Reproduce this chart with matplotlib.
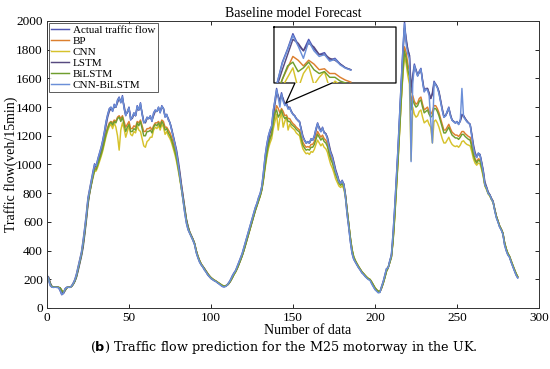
import numpy as np
import matplotlib
matplotlib.use('Agg')
import matplotlib.pyplot as plt

plt.rcParams['font.family'] = ['Liberation Serif', 'DejaVu Serif']

# 读取自图片的数据（15 分钟一个点，共 288 个）
actual = [
    230, 190, 155, 145, 145, 146, 144, 143, 120, 92, 105, 135, 145, 146, 144, 155,
    175, 200, 240, 290, 340, 390, 470, 560, 660, 770, 830, 890, 950, 1005, 990, 1040,
    1080, 1120, 1170, 1230, 1300, 1350, 1390, 1400, 1370, 1420, 1400, 1450, 1470, 1430, 1480, 1390,
    1340, 1370, 1400, 1310, 1330, 1360, 1340, 1410, 1380, 1430, 1350, 1290, 1300, 1330, 1320, 1340,
    1300, 1360, 1380, 1370, 1400, 1360, 1410, 1390, 1330, 1350, 1310, 1290, 1240, 1190, 1140, 1080,
    1000, 915, 830, 740, 660, 590, 545, 520, 495, 470, 440, 385, 350, 320, 300, 285,
    265, 250, 230, 218, 205, 198, 190, 185, 175, 168, 158, 150, 148, 155, 165, 180,
    200, 225, 245, 262, 290, 320, 350, 380, 420, 460, 500, 540, 580, 620, 660, 700,
    730, 770, 800, 850, 950, 1060, 1140, 1200, 1240, 1270, 1380, 1450, 1530, 1470, 1440, 1500,
    1450, 1420, 1430, 1390, 1400, 1370, 1350, 1340, 1320, 1310, 1300, 1240, 1190, 1170, 1150, 1160,
    1150, 1180, 1170, 1200, 1250, 1290, 1250, 1230, 1260, 1220, 1215, 1180, 1120, 1080, 1050, 1000,
    950, 920, 880, 870, 890, 860, 770, 650, 560, 460, 380, 340, 320, 300, 280, 265,
    245, 235, 220, 210, 200, 195, 170, 150, 130, 120, 110, 112, 150, 185, 230, 275,
    280, 330, 370, 520, 700, 900, 1110, 1350, 1580, 1800, 1995, 1860, 1800, 1760, 1500, 1620,
    1700, 1660, 1620, 1650, 1670, 1580, 1510, 1530, 1530, 1490, 1460, 1500, 1580, 1560, 1540, 1500,
    1440, 1380, 1330, 1340, 1370, 1400, 1340, 1310, 1300, 1290, 1300, 1280, 1310, 1350, 1340, 1320,
    1300, 1290, 1280, 1200, 1120, 1070, 1050, 1080, 1070, 1010, 950, 860, 840, 800, 790, 760,
    740, 680, 630, 600, 565, 545, 515, 440, 400, 370, 355, 320, 290, 260, 230, 210,
]

bp = [
    225, 210, 170, 150, 146, 146, 145, 144, 138, 120, 108, 122, 140, 145, 145, 150,
    168, 190, 225, 275, 325, 375, 445, 535, 635, 745, 810, 870, 925, 970, 975, 1010,
    1045, 1080, 1120, 1170, 1220, 1260, 1290, 1300, 1290, 1310, 1300, 1330, 1340, 1320, 1340, 1300,
    1260, 1280, 1300, 1250, 1250, 1270, 1260, 1300, 1290, 1310, 1270, 1230, 1230, 1250, 1250, 1260,
    1240, 1270, 1290, 1290, 1300, 1280, 1310, 1300, 1260, 1260, 1240, 1220, 1190, 1150, 1110, 1060,
    1000, 930, 850, 770, 690, 615, 565, 530, 505, 480, 450, 400, 362, 332, 308, 292,
    275, 258, 240, 225, 212, 203, 195, 188, 180, 172, 164, 156, 152, 154, 160, 172,
    190, 212, 235, 254, 278, 306, 336, 366, 402, 442, 482, 522, 562, 602, 642, 682,
    716, 752, 786, 830, 905, 995, 1075, 1140, 1185, 1215, 1290, 1350, 1410, 1390, 1360, 1390,
    1370, 1340, 1345, 1320, 1320, 1300, 1285, 1275, 1260, 1250, 1240, 1195, 1155, 1135, 1120, 1125,
    1120, 1140, 1140, 1160, 1195, 1230, 1210, 1190, 1205, 1180, 1170, 1145, 1095, 1055, 1030, 990,
    945, 915, 880, 865, 875, 855, 785, 680, 585, 485, 405, 355, 328, 308, 288, 270,
    252, 240, 226, 214, 204, 198, 180, 160, 140, 126, 116, 114, 140, 175, 215, 258,
    280, 318, 358, 470, 640, 830, 1030, 1250, 1460, 1650, 1820, 1780, 1700, 1650, 1440, 1480,
    1440, 1420, 1430, 1460, 1470, 1420, 1380, 1390, 1400, 1370, 1350, 1370, 1410, 1410, 1390, 1360,
    1320, 1280, 1240, 1240, 1260, 1280, 1250, 1225, 1215, 1205, 1205, 1195, 1210, 1230, 1230, 1215,
    1205, 1195, 1190, 1140, 1080, 1040, 1020, 1040, 1035, 990, 935, 860, 835, 800, 785, 760,
    740, 688, 640, 605, 572, 550, 522, 455, 412, 380, 360, 328, 298, 268, 240, 218,
]

cnn = [
    220, 200, 165, 148, 145, 146, 145, 144, 140, 125, 112, 125, 140, 145, 145, 150,
    165, 188, 222, 270, 320, 370, 440, 525, 625, 735, 800, 855, 905, 950, 955, 985,
    1020, 1055, 1095, 1145, 1195, 1235, 1265, 1280, 1250, 1290, 1260, 1200, 1100, 1240, 1290, 1250,
    1190, 1230, 1270, 1210, 1200, 1230, 1220, 1270, 1240, 1230, 1180, 1130, 1120, 1160, 1170, 1190,
    1190, 1240, 1260, 1250, 1270, 1240, 1280, 1260, 1210, 1230, 1200, 1180, 1150, 1110, 1070, 1020,
    960, 895, 825, 750, 680, 610, 562, 528, 502, 478, 448, 400, 362, 332, 308, 290,
    272, 256, 238, 224, 212, 203, 195, 188, 180, 173, 165, 158, 154, 156, 162, 174,
    190, 210, 232, 250, 274, 302, 332, 362, 398, 436, 476, 516, 556, 596, 636, 676,
    710, 745, 778, 820, 890, 975, 1050, 1110, 1150, 1180, 1250, 1300, 1350, 1240, 1320, 1360,
    1260, 1300, 1330, 1240, 1280, 1260, 1250, 1240, 1220, 1210, 1200, 1150, 1110, 1090, 1075, 1080,
    1070, 1090, 1085, 1105, 1140, 1170, 1150, 1130, 1145, 1120, 1110, 1085, 1040, 1000, 975, 940,
    900, 875, 850, 840, 850, 830, 770, 675, 585, 490, 410, 360, 332, 310, 290, 272,
    254, 242, 228, 216, 206, 200, 182, 162, 142, 128, 118, 116, 138, 170, 210, 255,
    280, 315, 352, 460, 620, 810, 1010, 1230, 1440, 1620, 1760, 1700, 1620, 1560, 1030, 1400,
    1350, 1330, 1340, 1370, 1380, 1330, 1290, 1300, 1310, 1280, 1260, 1150, 1300, 1310, 1290, 1260,
    1220, 1180, 1150, 1150, 1170, 1190, 1160, 1140, 1130, 1125, 1130, 1120, 1135, 1160, 1165, 1150,
    1140, 1135, 1130, 1090, 1040, 1010, 995, 1010, 1005, 965, 915, 850, 825, 795, 780, 755,
    735, 685, 640, 605, 572, 550, 522, 458, 415, 382, 362, 330, 300, 270, 242, 220,
]

lstm = [
    225, 215, 175, 150, 145, 145, 145, 144, 140, 118, 100, 120, 140, 145, 145, 150,
    165, 185, 215, 260, 310, 360, 420, 510, 610, 720, 800, 860, 920, 980, 990, 1020,
    1060, 1100, 1150, 1210, 1270, 1330, 1370, 1390, 1380, 1400, 1400, 1430, 1460, 1440, 1460, 1410,
    1350, 1360, 1390, 1330, 1320, 1350, 1340, 1390, 1380, 1410, 1360, 1300, 1290, 1320, 1320, 1330,
    1310, 1340, 1370, 1370, 1390, 1370, 1400, 1390, 1340, 1340, 1320, 1290, 1250, 1200, 1150, 1100,
    1030, 950, 860, 780, 700, 620, 570, 530, 505, 480, 450, 400, 360, 330, 305, 290,
    275, 255, 238, 222, 210, 200, 192, 186, 178, 170, 162, 154, 150, 152, 160, 172,
    190, 212, 236, 255, 278, 305, 335, 365, 400, 440, 480, 520, 560, 600, 640, 680,
    715, 750, 785, 830, 910, 1010, 1100, 1170, 1220, 1255, 1340, 1420, 1500, 1480, 1440, 1480,
    1460, 1420, 1420, 1400, 1390, 1370, 1350, 1340, 1320, 1305, 1295, 1250, 1200, 1170, 1150, 1155,
    1150, 1170, 1170, 1190, 1235, 1280, 1260, 1235, 1250, 1225, 1215, 1190, 1140, 1090, 1060, 1015,
    965, 930, 890, 870, 880, 865, 790, 680, 580, 480, 400, 350, 325, 305, 285, 268,
    250, 238, 225, 212, 203, 196, 178, 158, 138, 125, 115, 112, 140, 175, 215, 260,
    280, 320, 360, 480, 660, 860, 1070, 1310, 1540, 1760, 1950, 1880, 1800, 1760, 1540, 1600,
    1680, 1660, 1620, 1640, 1660, 1590, 1520, 1520, 1530, 1500, 1460, 1490, 1560, 1560, 1540, 1510,
    1450, 1390, 1340, 1340, 1360, 1390, 1350, 1310, 1300, 1290, 1295, 1285, 1300, 1340, 1340, 1320,
    1305, 1290, 1280, 1215, 1140, 1085, 1055, 1070, 1070, 1020, 960, 880, 845, 810, 790, 765,
    745, 690, 640, 605, 570, 548, 520, 455, 410, 378, 358, 325, 295, 265, 238, 215,
]

bilstm = [
    222, 205, 168, 150, 146, 146, 145, 144, 140, 122, 110, 124, 140, 145, 145, 150,
    166, 188, 222, 272, 322, 372, 442, 530, 630, 740, 805, 862, 915, 960, 965, 1000,
    1035, 1070, 1110, 1160, 1210, 1250, 1280, 1295, 1275, 1300, 1290, 1320, 1330, 1300, 1330, 1280,
    1230, 1260, 1280, 1230, 1230, 1250, 1240, 1290, 1270, 1300, 1250, 1200, 1200, 1230, 1230, 1240,
    1220, 1260, 1280, 1270, 1290, 1260, 1300, 1280, 1240, 1250, 1220, 1200, 1170, 1130, 1090, 1040,
    975, 905, 830, 755, 680, 610, 562, 528, 502, 478, 448, 398, 360, 330, 306, 290,
    272, 256, 238, 224, 211, 202, 194, 187, 179, 172, 164, 156, 152, 154, 160, 172,
    190, 210, 233, 252, 276, 304, 334, 364, 400, 440, 480, 520, 560, 600, 640, 680,
    714, 750, 782, 825, 900, 990, 1070, 1135, 1180, 1210, 1290, 1360, 1380, 1330, 1350, 1380,
    1340, 1320, 1330, 1300, 1300, 1280, 1270, 1260, 1245, 1235, 1225, 1180, 1135, 1115, 1100, 1105,
    1100, 1120, 1120, 1140, 1175, 1210, 1190, 1170, 1185, 1160, 1150, 1125, 1075, 1035, 1010, 970,
    930, 900, 870, 855, 865, 845, 780, 680, 585, 488, 408, 358, 330, 308, 288, 270,
    252, 240, 226, 214, 204, 198, 180, 160, 140, 126, 116, 114, 140, 172, 212, 256,
    280, 316, 356, 465, 630, 820, 1020, 1240, 1450, 1640, 1790, 1740, 1660, 1610, 1380, 1450,
    1420, 1400, 1410, 1440, 1450, 1400, 1360, 1370, 1380, 1350, 1330, 1340, 1390, 1390, 1370, 1340,
    1300, 1260, 1220, 1220, 1240, 1260, 1230, 1205, 1195, 1185, 1185, 1175, 1190, 1210, 1210, 1195,
    1185, 1175, 1170, 1120, 1065, 1030, 1010, 1030, 1025, 980, 925, 855, 830, 798, 783, 758,
    738, 686, 638, 603, 570, 548, 520, 455, 412, 380, 360, 328, 298, 268, 240, 218,
]

cnn_bilstm = [
    230, 200, 160, 145, 143, 145, 143, 142, 125, 95, 102, 130, 143, 145, 143, 152,
    170, 195, 232, 282, 332, 382, 458, 548, 648, 758, 822, 882, 942, 998, 990, 1035,
    1075, 1115, 1165, 1225, 1292, 1345, 1385, 1398, 1372, 1415, 1400, 1445, 1465, 1432, 1472, 1395,
    1342, 1368, 1395, 1315, 1328, 1358, 1340, 1405, 1380, 1425, 1352, 1292, 1300, 1328, 1320, 1338,
    1302, 1355, 1378, 1370, 1398, 1362, 1405, 1390, 1332, 1348, 1312, 1290, 1242, 1192, 1142, 1085,
    1005, 920, 835, 745, 665, 595, 550, 522, 498, 472, 442, 388, 352, 322, 302, 286,
    266, 250, 232, 219, 206, 198, 190, 184, 175, 167, 158, 150, 146, 150, 162, 178,
    198, 222, 243, 260, 288, 318, 348, 378, 418, 458, 498, 538, 578, 618, 658, 698,
    728, 768, 798, 848, 945, 1055, 1135, 1195, 1238, 1268, 1375, 1445, 1520, 1465, 1400, 1490,
    1440, 1410, 1420, 1385, 1395, 1365, 1348, 1338, 1318, 1308, 1295, 1238, 1188, 1168, 1150, 1158,
    1150, 1178, 1168, 1198, 1248, 1285, 1248, 1228, 1255, 1218, 1212, 1178, 1118, 1078, 1048, 1000,
    950, 920, 880, 868, 885, 858, 770, 655, 562, 462, 382, 342, 320, 300, 280, 264,
    245, 234, 220, 208, 198, 192, 168, 148, 128, 116, 105, 108, 148, 182, 228, 272,
    280, 328, 368, 515, 695, 895, 1105, 1345, 1575, 1795, 1980, 1840, 1770, 1740, 1020, 1560,
    1690, 1650, 1615, 1645, 1665, 1575, 1505, 1525, 1520, 1480, 1300, 1150, 1570, 1555, 1535, 1495,
    1435, 1378, 1328, 1338, 1368, 1395, 1338, 1308, 1298, 1288, 1298, 1278, 1305, 1530, 1330, 1315,
    1298, 1288, 1278, 1200, 1118, 1068, 1048, 1078, 1068, 1008, 948, 858, 838, 798, 788, 758,
    738, 678, 628, 598, 563, 543, 513, 440, 400, 370, 354, 320, 290, 260, 230, 210,
]

series = [
    ('Actual traffic flow', actual, '#4f56b3'),
    ('BP', bp, '#dc7f2e'),
    ('CNN', cnn, '#d6c22c'),
    ('LSTM', lstm, '#574a80'),
    ('BiLSTM', bilstm, '#6f9e2e'),
    ('CNN-BiLSTM', cnn_bilstm, '#6b8fd8'),
]
for name, vals, _ in series:
    assert len(vals) == 288, (name, len(vals))

fig = plt.figure(figsize=(5.5, 3.69), dpi=100)
ax = fig.add_axes([47 / 550, 1 - 308 / 369, 492 / 550, 287 / 369])

for name, vals, color in series:
    ax.plot(np.arange(len(vals)), vals, color=color, lw=1.05, label=name)

ax.set_xlim(0, 300)
ax.set_ylim(0, 2000)
ax.set_xticks(np.arange(0, 301, 50))
ax.set_yticks(np.arange(0, 2001, 200))
ax.tick_params(direction='in', length=3, width=0.6, top=True, right=True,
               labelsize=9.5, pad=3)
for sp in ax.spines.values():
    sp.set_linewidth(0.7)
    sp.set_color('#333333')

ax.set_title('Baseline model Forecast', fontsize=10, pad=3)
ax.set_xlabel('Number of data', fontsize=10, labelpad=0)
ax.xaxis.set_label_coords(0.53, -0.055)
ax.set_ylabel('Traffic flow(veh/15min)', fontsize=10)
ax.yaxis.set_label_coords(-0.058, 0.5)

leg = ax.legend(loc='upper left', fontsize=8, frameon=True, fancybox=False,
                handlelength=1.6, handletextpad=0.3, borderpad=0.25,
                labelspacing=0.1, borderaxespad=0.15)
leg.get_frame().set_edgecolor('#333333')
leg.get_frame().set_linewidth(0.7)

# 放大框（带指针）
bx = [138.4, 212.8, 212.8, 173.8, 145.7, 151.2, 138.4, 138.4]
by = [1958, 1958, 1568, 1568, 1429, 1568, 1568, 1958]
ax.plot(bx, by, color='black', lw=0.9)

ins = fig.add_axes([275 / 550, 1 - 83 / 369, 121 / 550, 55 / 369])
ins.set_axis_off()
lo, hi = 137, 151
for name, vals, color in series:
    ins.plot(np.arange(lo, hi + 1), vals[lo:hi + 1], color=color, lw=1.05)
ins.set_xlim(136.6, 159.6)
ins.set_ylim(1270, 1560)

fig.text(0.515, 1 - 348 / 369, r'($\mathbf{b}$) Traffic flow prediction for the M25 motorway in the UK.',
         ha='center', va='center', fontsize=9.2, family='DejaVu Serif')

fig.savefig('out.png', dpi=100)
